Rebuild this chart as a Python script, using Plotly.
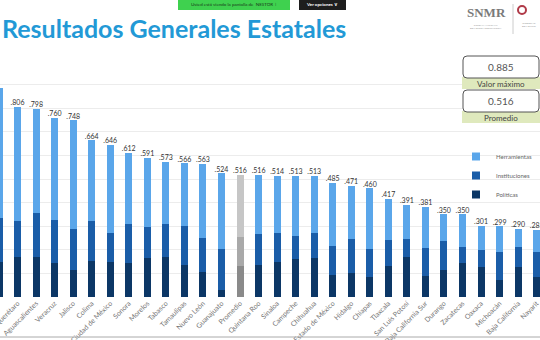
import plotly.graph_objects as go

estados = ["Puebla", "Querétaro", "Aguascalientes", "Veracruz", "Jalisco", "Colima",
           "Ciudad de México", "Sonora", "Morelos", "Tabasco", "Tamaulipas", "Nuevo León",
           "Guanajuato", "Promedio", "Quintana Roo", "Sinaloa", "Campeche", "Chihuahua",
           "Estado de México", "Hidalgo", "Chiapas", "Tlaxcala", "San Luis Potosí",
           "Baja California Sur", "Durango", "Zacatecas", "Oaxaca", "Michoacán",
           "Baja California", "Nayarit"]
totales = [0.885, 0.806, 0.798, 0.760, 0.748, 0.664, 0.646, 0.612, 0.591, 0.573, 0.566, 0.563,
           0.524, 0.516, 0.516, 0.514, 0.513, 0.513, 0.485, 0.471, 0.460, 0.417, 0.391,
           0.381, 0.350, 0.350, 0.301, 0.299, 0.290, 0.285]
politicas = [0.148, 0.169, 0.169, 0.144, 0.114, 0.153, 0.148, 0.144, 0.165, 0.169, 0.136, 0.106,
             0.030, 0.131, 0.136, 0.148, 0.161, 0.165, 0.093, 0.102, 0.085, 0.131, 0.169,
             0.089, 0.114, 0.144, 0.127, 0.072, 0.127, 0.085]
instituciones = [0.187, 0.153, 0.187, 0.182, 0.174, 0.169, 0.123, 0.165, 0.132, 0.140, 0.165, 0.144,
                 0.173, 0.123, 0.131, 0.123, 0.097, 0.106, 0.123, 0.144, 0.118, 0.111, 0.077,
                 0.119, 0.123, 0.068, 0.072, 0.119, 0.085, 0.106]
herramientas = [0.550, 0.484, 0.442, 0.434, 0.460, 0.342, 0.375, 0.303, 0.294, 0.264, 0.265, 0.313,
                0.321, 0.262, 0.249, 0.243, 0.255, 0.242, 0.269, 0.225, 0.257, 0.175, 0.145,
                0.173, 0.113, 0.138, 0.102, 0.108, 0.078, 0.094]
etiquetas = [f"{v:.3f}"[1:] for v in totales]
series = ["Políticas", "Instituciones", "Herramientas"]

C_POL, C_INS, C_HER = "#0c3766", "#1a5da8", "#5aa6ea"
G_POL, G_INS, G_HER = "#8a8a8a", "#a9a9a9", "#c6c6c6"

def colores(base, gris):
    return [gris if e == "Promedio" else base for e in estados]

W, H = 540, 340
def X(px): return px / W
def Y(py): return 1 - py / H

fig = go.Figure()
for nombre, vals, base, gris in [(series[0], politicas, C_POL, G_POL),
                                  (series[1], instituciones, C_INS, G_INS),
                                  (series[2], herramientas, C_HER, G_HER)]:
    fig.add_trace(go.Bar(x=estados, y=vals, name=nombre, showlegend=False,
                         marker=dict(color=colores(base, gris), line_width=0)))
# legend entries with small square markers
for nombre, base in [(series[0], C_POL), (series[1], C_INS), (series[2], C_HER)]:
    fig.add_trace(go.Scatter(x=[None], y=[None], mode="markers", name=nombre,
                             marker=dict(symbol="square", size=8, color=base)))
fig.add_trace(go.Scatter(x=estados, y=totales, text=etiquetas, mode="text",
                         textposition="top center", showlegend=False,
                         textfont=dict(size=7, color="#333333", family="Lato"),
                         cliponaxis=False))

fig.update_layout(
    width=W, height=H, barmode="stack", bargap=0.62,
    margin=dict(l=0, r=0, t=0, b=0, autoexpand=False),
    paper_bgcolor="white", plot_bgcolor="white",
    font=dict(family="Lato", color="#666666"),
    xaxis=dict(domain=[0, 1], range=[0.054, 29.18], tickangle=-45, automargin=False,
               tickfont=dict(size=7, color="#777777", family="Lato"),
               showgrid=False, ticks="", showline=False, zeroline=False),
    yaxis=dict(domain=[43 / H, 279 / H], range=[0, 1.0], dtick=0.1, automargin=False,
               showticklabels=False, showgrid=True, gridcolor="#ececec",
               gridwidth=1, zeroline=False),
    legend=dict(x=X(456), y=Y(142), xanchor="left", yanchor="top",
                traceorder="reversed", bgcolor="rgba(0,0,0,0)",
                font=dict(size=6, color="#666666", family="Lato"),
                itemwidth=30),
)

shapes = []
annots = []
def ann(text, px, py, size, color, family="Lato", xa="center"):
    annots.append(dict(text=text, x=X(px), y=Y(py), xref="paper", yref="paper",
                       xanchor=xa, yanchor="middle", showarrow=False,
                       font=dict(size=size, color=color, family=family)))

# title
ann("<b>Resultados Generales Estatales</b>", 0, 28, 25, "#2299d6", xa="left")
# screen share banner
shapes.append(dict(type="rect", xref="paper", yref="paper", x0=X(178), x1=X(290),
                   y0=Y(10), y1=Y(0), fillcolor="#3fd14f", line_width=0))
ann("Usted está viendo la pantalla de  NESTOR  ⁝", 234, 5, 4.5, "#1a3a1a")
shapes.append(dict(type="rect", xref="paper", yref="paper", x0=X(299), x1=X(346),
                   y0=Y(10), y1=Y(0), fillcolor="#1e1e1e", line_width=0))
ann("<b>Ver opciones ∨</b>", 322, 5, 4.5, "white")
# logo
ann("<b>SNMR</b>", 486, 13, 13, "#7a7a7a", family="Liberation Serif")
ann("SISTEMA NACIONAL<br>DE MEJORA REGULATORIA", 486, 27, 2.5, "#999999")
shapes.append(dict(type="line", xref="paper", yref="paper", x0=X(513), x1=X(513),
                   y0=Y(4), y1=Y(34), line=dict(color="#cccccc", width=1)))
shapes.append(dict(type="circle", xref="paper", yref="paper", x0=X(518), x1=X(526),
                   y0=Y(14), y1=Y(6), line=dict(color="#b03a48", width=2)))
ann("GOBIERNO<br>DE MÉXICO", 520, 25, 2.5, "#999999", xa="left")

def rbox(x0, y0, x1, y1, r=4):
    a, b, c, d = X(x0), Y(y0), X(x1), Y(y1)
    rx, ry = r / W, r / H
    return (f"M {a+rx},{b} L {c-rx},{b} Q {c},{b} {c},{b-ry} L {c},{d+ry} "
            f"Q {c},{d} {c-rx},{d} L {a+rx},{d} Q {a},{d} {a},{d+ry} L {a},{b-ry} "
            f"Q {a},{b} {a+rx},{b} Z")

for (ytop, val, lab) in [(56, f"{max(totales):.3f}", "Valor máximo"),
                         (90, f"{totales[estados.index('Promedio')]:.3f}", "Promedio")]:
    shapes.append(dict(type="rect", xref="paper", yref="paper", x0=X(462), x1=X(540),
                       y0=Y(ytop + 33), y1=Y(ytop + 21), fillcolor="#dfe9bd", line_width=0))
    shapes.append(dict(type="path", xref="paper", yref="paper",
                       path=rbox(463, ytop, 539, ytop + 22),
                       fillcolor="white", line=dict(color="#555555", width=1)))
    ann(val, 501, ytop + 11, 10, "#555555")
    ann(lab, 501, ytop + 28, 8, "#444444")

# bottom line
shapes.append(dict(type="line", xref="paper", yref="paper", x0=0, x1=1,
                   y0=Y(337), y1=Y(337), line=dict(color="#aaaaaa", width=1)))

fig.update_layout(shapes=shapes, annotations=annots)
fig.write_html("out.html")
